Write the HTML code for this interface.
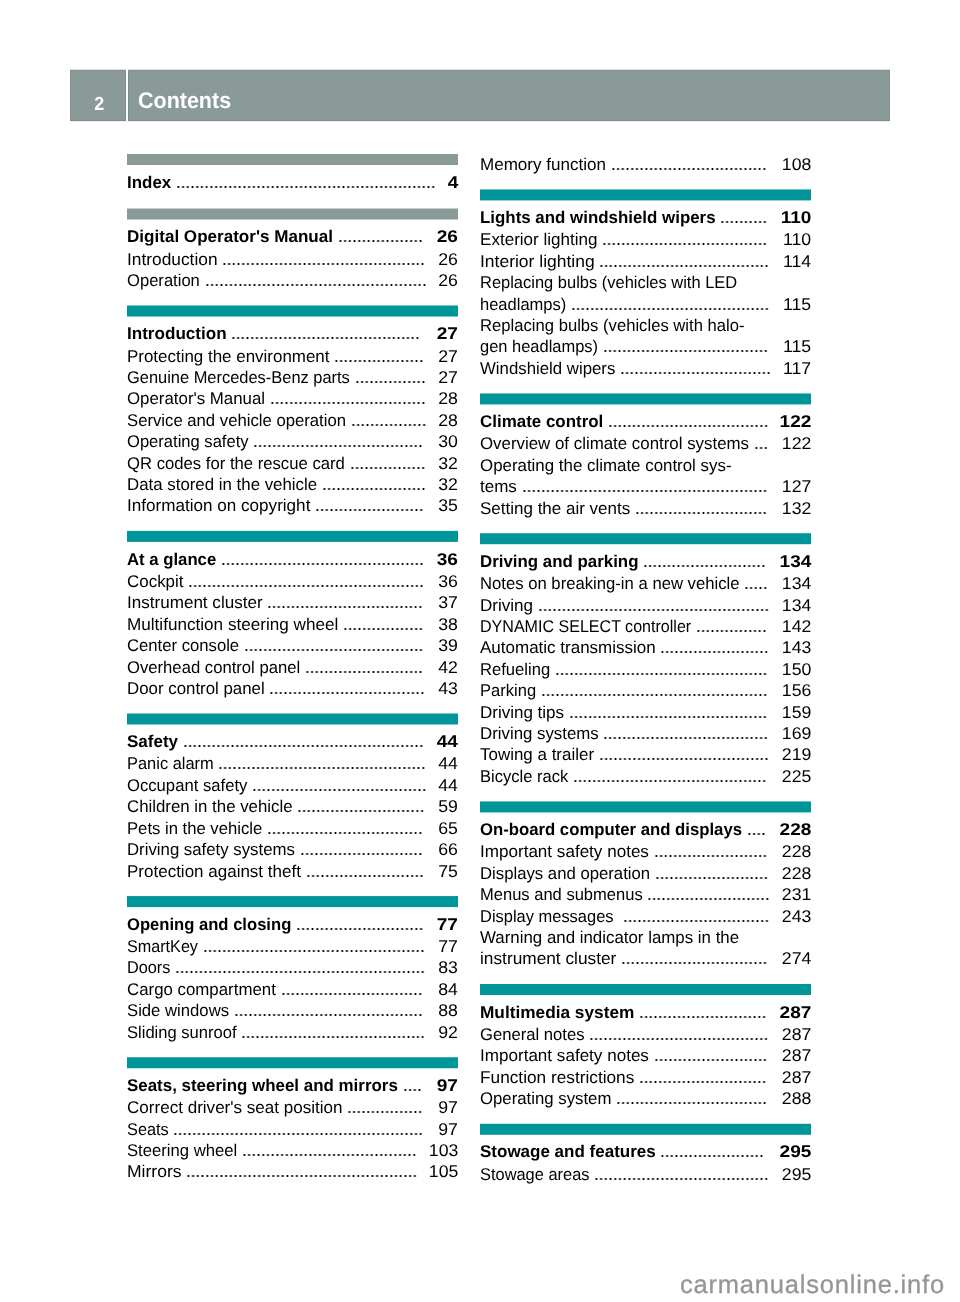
<!DOCTYPE html>
<html><head><meta charset="utf-8"><style>
html,body{margin:0;padding:0;background:#fff}
body{width:960px;height:1302px;position:relative;overflow:hidden;font-family:"Liberation Sans",sans-serif;color:#000;text-rendering:geometricPrecision}
.hd{position:absolute;top:70px;height:51px;background:#8a9a98;box-shadow:inset 0 0 0 1px rgba(0,0,0,0.07),0 -1px 0 rgba(138,154,152,0.25),0 1px 0 rgba(138,154,152,0.2)}
.bar{position:absolute;height:11px}
.row{position:absolute;height:20px;line-height:20px;font-size:17.0px;white-space:nowrap}
.row.b{font-weight:bold}
.t{position:absolute;left:0;top:0;transform-origin:0 0}
.d{position:absolute;top:12px;height:4px;background:radial-gradient(circle at 50% 50%,#000 0,#000 0.75px,rgba(0,0,0,0) 1.3px) 0 0/4.7226px 4px repeat-x}
.n{position:absolute;right:0;top:0;transform:scaleX(1.04);transform-origin:100% 0}
.row.b .n{transform:scaleX(1.12)}
.pg{position:absolute;color:#fff;font-weight:bold;white-space:nowrap}
.wm{position:absolute;color:#959595;font-size:25.5px;line-height:32px;white-space:nowrap;letter-spacing:0.8px;-webkit-text-stroke:0.3px #959595}

</style></head><body>
<div id="L" style="position:absolute;left:0;top:0;width:960px;height:1302px;will-change:transform">
<div class="hd" style="left:70px;width:56px"></div>
<div class="hd" style="left:128px;width:762px"></div>
<div class="pg" style="left:93.9px;top:93px;font-size:19px;line-height:24px;transform:scaleX(0.94);transform-origin:5px 0">2</div>
<div class="pg" style="left:138px;top:87px;font-size:22.7px;line-height:26px;transform:scaleX(0.947);transform-origin:0 0">Contents</div>
<div class="bar" style="left:127px;top:154px;width:331px;height:12px;background:linear-gradient(to bottom,rgba(138,154,152,1.000) 0,rgba(138,154,152,1.000) 1px,#8a9a98 1px,#8a9a98 11px,rgba(138,154,152,0.000) 11px,rgba(138,154,152,0.000) 12px)"></div>
<div class="row b" style="left:127px;top:173px;width:331px"><span class="t" style="transform:scaleX(0.9955)">Index</span><span class="d" style="left:48.93px;width:259.74px"></span><span class="n">4</span></div>
<div class="bar" style="left:127px;top:208px;width:331px;height:12px;background:linear-gradient(to bottom,rgba(138,154,152,0.477) 0,rgba(138,154,152,0.477) 1px,#8a9a98 1px,#8a9a98 11px,rgba(138,154,152,0.523) 11px,rgba(138,154,152,0.523) 12px)"></div>
<div class="row b" style="left:127px;top:227px;width:331px"><span class="t" style="transform:scaleX(1.0034)">Digital Operator&#39;s Manual</span><span class="d" style="left:210.68px;width:85.01px"></span><span class="n">26</span></div>
<div class="row" style="left:127px;top:250px;width:331px"><span class="t" style="transform:scaleX(1.0193)">Introduction</span><span class="d" style="left:95.28px;width:203.07px"></span><span class="n">26</span></div>
<div class="row" style="left:127px;top:271px;width:331px"><span class="t" style="transform:scaleX(0.9757)">Operation</span><span class="d" style="left:77.58px;width:221.96px"></span><span class="n">26</span></div>
<div class="bar" style="left:127px;top:305px;width:331px;height:12px;background:linear-gradient(to bottom,rgba(0,150,153,0.500) 0,rgba(0,150,153,0.500) 1px,#009699 1px,#009699 11px,rgba(0,150,153,0.500) 11px,rgba(0,150,153,0.500) 12px)"></div>
<div class="row b" style="left:127px;top:324px;width:331px"><span class="t" style="transform:scaleX(1.0051)">Introduction</span><span class="d" style="left:104.38px;width:188.90px"></span><span class="n">27</span></div>
<div class="row" style="left:127px;top:347px;width:331px"><span class="t" style="transform:scaleX(0.9966)">Protecting the environment</span><span class="d" style="left:207.19px;width:89.73px"></span><span class="n">27</span></div>
<div class="row" style="left:127px;top:368px;width:331px"><span class="t" style="transform:scaleX(0.9665)">Genuine Mercedes-Benz parts</span><span class="d" style="left:227.57px;width:70.84px"></span><span class="n">27</span></div>
<div class="row" style="left:127px;top:389px;width:331px"><span class="t" style="transform:scaleX(0.9913)">Operator&#39;s Manual</span><span class="d" style="left:142.82px;width:155.85px"></span><span class="n">28</span></div>
<div class="row" style="left:127px;top:411px;width:331px"><span class="t" style="transform:scaleX(0.9820)">Service and vehicle operation</span><span class="d" style="left:223.74px;width:75.56px"></span><span class="n">28</span></div>
<div class="row" style="left:127px;top:432px;width:331px"><span class="t" style="transform:scaleX(0.9744)">Operating safety</span><span class="d" style="left:126.28px;width:170.01px"></span><span class="n">30</span></div>
<div class="row" style="left:127px;top:454px;width:331px"><span class="t" style="transform:scaleX(0.9810)">QR codes for the rescue card</span><span class="d" style="left:222.55px;width:75.56px"></span><span class="n">32</span></div>
<div class="row" style="left:127px;top:475px;width:331px"><span class="t" style="transform:scaleX(0.9911)">Data stored in the vehicle</span><span class="d" style="left:194.86px;width:103.90px"></span><span class="n">32</span></div>
<div class="row" style="left:127px;top:496px;width:331px"><span class="t" style="transform:scaleX(1.0055)">Information on copyright</span><span class="d" style="left:188.12px;width:108.62px"></span><span class="n">35</span></div>
<div class="bar" style="left:127px;top:530px;width:331px;height:12px;background:linear-gradient(to bottom,rgba(0,150,153,0.105) 0,rgba(0,150,153,0.105) 1px,#009699 1px,#009699 11px,rgba(0,150,153,0.895) 11px,rgba(0,150,153,0.895) 12px)"></div>
<div class="row b" style="left:127px;top:550px;width:331px"><span class="t" style="transform:scaleX(0.9833)">At a glance</span><span class="d" style="left:93.91px;width:203.07px"></span><span class="n">36</span></div>
<div class="row" style="left:127px;top:572px;width:331px"><span class="t" style="transform:scaleX(0.9965)">Cockpit</span><span class="d" style="left:61.21px;width:236.13px"></span><span class="n">36</span></div>
<div class="row" style="left:127px;top:593px;width:331px"><span class="t" style="transform:scaleX(1.0037)">Instrument cluster</span><span class="d" style="left:140.33px;width:155.85px"></span><span class="n">37</span></div>
<div class="row" style="left:127px;top:615px;width:331px"><span class="t" style="transform:scaleX(1.0072)">Multifunction steering wheel</span><span class="d" style="left:216.01px;width:80.28px"></span><span class="n">38</span></div>
<div class="row" style="left:127px;top:636px;width:331px"><span class="t" style="transform:scaleX(0.9807)">Center console</span><span class="d" style="left:116.86px;width:179.46px"></span><span class="n">39</span></div>
<div class="row" style="left:127px;top:658px;width:331px"><span class="t" style="transform:scaleX(0.9801)">Overhead control panel</span><span class="d" style="left:177.94px;width:118.06px"></span><span class="n">42</span></div>
<div class="row" style="left:127px;top:679px;width:331px"><span class="t" style="transform:scaleX(0.9913)">Door control panel</span><span class="d" style="left:142.44px;width:155.85px"></span><span class="n">43</span></div>
<div class="bar" style="left:127px;top:713px;width:331px;height:12px;background:linear-gradient(to bottom,rgba(0,150,153,0.516) 0,rgba(0,150,153,0.516) 1px,#009699 1px,#009699 11px,rgba(0,150,153,0.484) 11px,rgba(0,150,153,0.484) 12px)"></div>
<div class="row b" style="left:127px;top:732px;width:331px"><span class="t">Safety</span><span class="d" style="left:55.75px;width:240.85px"></span><span class="n">44</span></div>
<div class="row" style="left:127px;top:754px;width:331px"><span class="t" style="transform:scaleX(0.9663)">Panic alarm</span><span class="d" style="left:91.46px;width:207.79px"></span><span class="n">44</span></div>
<div class="row" style="left:127px;top:776px;width:331px"><span class="t" style="transform:scaleX(0.9797)">Occupant safety</span><span class="d" style="left:125.07px;width:174.74px"></span><span class="n">44</span></div>
<div class="row" style="left:127px;top:797px;width:331px"><span class="t" style="transform:scaleX(0.9898)">Children in the vehicle</span><span class="d" style="left:170.28px;width:127.51px"></span><span class="n">59</span></div>
<div class="row" style="left:127px;top:819px;width:331px"><span class="t" style="transform:scaleX(0.9803)">Pets in the vehicle</span><span class="d" style="left:139.97px;width:155.85px"></span><span class="n">65</span></div>
<div class="row" style="left:127px;top:840px;width:331px"><span class="t" style="transform:scaleX(0.9870)">Driving safety systems</span><span class="d" style="left:172.56px;width:122.79px"></span><span class="n">66</span></div>
<div class="row" style="left:127px;top:862px;width:331px"><span class="t">Protection against theft</span><span class="d" style="left:178.91px;width:118.06px"></span><span class="n">75</span></div>
<div class="bar" style="left:127px;top:896px;width:331px;height:12px;background:linear-gradient(to bottom,rgba(0,150,153,0.927) 0,rgba(0,150,153,0.927) 1px,#009699 1px,#009699 11px,rgba(0,150,153,0.073) 11px,rgba(0,150,153,0.073) 12px)"></div>
<div class="row b" style="left:127px;top:915px;width:331px"><span class="t" style="transform:scaleX(0.9772)">Opening and closing</span><span class="d" style="left:169.02px;width:127.51px"></span><span class="n">77</span></div>
<div class="row" style="left:127px;top:937px;width:331px"><span class="t" style="transform:scaleX(0.9507)">SmartKey</span><span class="d" style="left:75.68px;width:221.96px"></span><span class="n">77</span></div>
<div class="row" style="left:127px;top:958px;width:331px"><span class="t" style="transform:scaleX(0.9556)">Doors</span><span class="d" style="left:48.07px;width:250.30px"></span><span class="n">83</span></div>
<div class="row" style="left:127px;top:980px;width:331px"><span class="t" style="transform:scaleX(0.9907)">Cargo compartment</span><span class="d" style="left:153.55px;width:141.68px"></span><span class="n">84</span></div>
<div class="row" style="left:127px;top:1001px;width:331px"><span class="t" style="transform:scaleX(0.9816)">Side windows</span><span class="d" style="left:106.76px;width:188.90px"></span><span class="n">88</span></div>
<div class="row" style="left:127px;top:1023px;width:331px"><span class="t" style="transform:scaleX(0.9743)">Sliding sunroof</span><span class="d" style="left:114.30px;width:184.18px"></span><span class="n">92</span></div>
<div class="bar" style="left:127px;top:1057px;width:331px;height:12px;background:linear-gradient(to bottom,rgba(0,150,153,0.741) 0,rgba(0,150,153,0.741) 1px,#009699 1px,#009699 11px,rgba(0,150,153,0.259) 11px,rgba(0,150,153,0.259) 12px)"></div>
<div class="row b" style="left:127px;top:1076px;width:331px"><span class="t" style="transform:scaleX(0.9952)">Seats, steering wheel and mirrors</span><span class="d" style="left:275.53px;width:18.89px"></span><span class="n">97</span></div>
<div class="row" style="left:127px;top:1098px;width:331px"><span class="t" style="transform:scaleX(1.0033)">Correct driver&#39;s seat position</span><span class="d" style="left:220.32px;width:75.56px"></span><span class="n">97</span></div>
<div class="row" style="left:127px;top:1120px;width:331px"><span class="t" style="transform:scaleX(0.9605)">Seats</span><span class="d" style="left:46.49px;width:250.30px"></span><span class="n">97</span></div>
<div class="row" style="left:127px;top:1141px;width:331px"><span class="t" style="transform:scaleX(0.9795)">Steering wheel</span><span class="d" style="left:114.88px;width:174.74px"></span><span class="n">103</span></div>
<div class="row" style="left:127px;top:1162px;width:331px"><span class="t" style="transform:scaleX(1.0327)">Mirrors</span><span class="d" style="left:59.34px;width:231.41px"></span><span class="n">105</span></div>
<div class="row" style="left:480px;top:155px;width:331px"><span class="t" style="transform:scaleX(1.0024)">Memory function</span><span class="d" style="left:130.70px;width:155.85px"></span><span class="n">108</span></div>
<div class="bar" style="left:480px;top:189px;width:331px;height:12px;background:linear-gradient(to bottom,rgba(0,150,153,0.569) 0,rgba(0,150,153,0.569) 1px,#009699 1px,#009699 11px,rgba(0,150,153,0.431) 11px,rgba(0,150,153,0.431) 12px)"></div>
<div class="row b" style="left:480px;top:208px;width:331px"><span class="t" style="transform:scaleX(0.9936)">Lights and windshield wipers</span><span class="d" style="left:240.31px;width:47.23px"></span><span class="n">110</span></div>
<div class="row" style="left:480px;top:230px;width:331px"><span class="t" style="transform:scaleX(1.0034)">Exterior lighting</span><span class="d" style="left:122.30px;width:165.29px"></span><span class="n">110</span></div>
<div class="row" style="left:480px;top:252px;width:331px"><span class="t" style="transform:scaleX(1.0282)">Interior lighting</span><span class="d" style="left:119.38px;width:170.01px"></span><span class="n">114</span></div>
<div class="row" style="left:480px;top:273px;width:331px"><span class="t" style="transform:scaleX(0.9687)">Replacing bulbs (vehicles with LED</span></div>
<div class="row" style="left:480px;top:295px;width:331px"><span class="t" style="transform:scaleX(0.9716)">headlamps)</span><span class="d" style="left:91.03px;width:198.35px"></span><span class="n">115</span></div>
<div class="row" style="left:480px;top:316px;width:331px"><span class="t" style="transform:scaleX(0.9789)">Replacing bulbs (vehicles with halo-</span></div>
<div class="row" style="left:480px;top:337px;width:331px"><span class="t" style="transform:scaleX(0.9686)">gen headlamps)</span><span class="d" style="left:122.82px;width:165.29px"></span><span class="n">115</span></div>
<div class="row" style="left:480px;top:359px;width:331px"><span class="t" style="transform:scaleX(0.9875)">Windshield wipers</span><span class="d" style="left:140.01px;width:151.12px"></span><span class="n">117</span></div>
<div class="bar" style="left:480px;top:393px;width:331px;height:12px;background:linear-gradient(to bottom,rgba(0,150,153,0.577) 0,rgba(0,150,153,0.577) 1px,#009699 1px,#009699 11px,rgba(0,150,153,0.423) 11px,rgba(0,150,153,0.423) 12px)"></div>
<div class="row b" style="left:480px;top:412px;width:331px"><span class="t" style="transform:scaleX(0.9967)">Climate control</span><span class="d" style="left:128.07px;width:160.57px"></span><span class="n">122</span></div>
<div class="row" style="left:480px;top:434px;width:331px"><span class="t" style="transform:scaleX(0.9923)">Overview of climate control systems</span><span class="d" style="left:273.76px;width:14.17px"></span><span class="n">122</span></div>
<div class="row" style="left:480px;top:456px;width:331px"><span class="t" style="transform:scaleX(0.9933)">Operating the climate control sys-</span></div>
<div class="row" style="left:480px;top:477px;width:331px"><span class="t">tems</span><span class="d" style="left:41.57px;width:245.58px"></span><span class="n">127</span></div>
<div class="row" style="left:480px;top:499px;width:331px"><span class="t">Setting the air vents</span><span class="d" style="left:154.69px;width:132.23px"></span><span class="n">132</span></div>
<div class="bar" style="left:480px;top:533px;width:331px;height:12px;background:linear-gradient(to bottom,rgba(0,150,153,0.794) 0,rgba(0,150,153,0.794) 1px,#009699 1px,#009699 11px,rgba(0,150,153,0.206) 11px,rgba(0,150,153,0.206) 12px)"></div>
<div class="row b" style="left:480px;top:552px;width:331px"><span class="t" style="transform:scaleX(0.9925)">Driving and parking</span><span class="d" style="left:163.16px;width:122.79px"></span><span class="n">134</span></div>
<div class="row" style="left:480px;top:574px;width:331px"><span class="t" style="transform:scaleX(0.9807)">Notes on breaking-in a new vehicle</span><span class="d" style="left:264.22px;width:23.61px"></span><span class="n">134</span></div>
<div class="row" style="left:480px;top:596px;width:331px"><span class="t" style="transform:scaleX(1.0038)">Driving</span><span class="d" style="left:57.83px;width:231.41px"></span><span class="n">134</span></div>
<div class="row" style="left:480px;top:617px;width:331px"><span class="t" style="transform:scaleX(0.9444)">DYNAMIC SELECT controller</span><span class="d" style="left:215.88px;width:70.84px"></span><span class="n">142</span></div>
<div class="row" style="left:480px;top:638px;width:331px"><span class="t">Automatic transmission</span><span class="d" style="left:180.36px;width:108.62px"></span><span class="n">143</span></div>
<div class="row" style="left:480px;top:660px;width:331px"><span class="t" style="transform:scaleX(0.9761)">Refueling</span><span class="d" style="left:74.83px;width:212.52px"></span><span class="n">150</span></div>
<div class="row" style="left:480px;top:681px;width:331px"><span class="t" style="transform:scaleX(0.9737)">Parking</span><span class="d" style="left:60.85px;width:226.68px"></span><span class="n">156</span></div>
<div class="row" style="left:480px;top:703px;width:331px"><span class="t">Driving tips</span><span class="d" style="left:88.92px;width:198.35px"></span><span class="n">159</span></div>
<div class="row" style="left:480px;top:724px;width:331px"><span class="t" style="transform:scaleX(0.9899)">Driving systems</span><span class="d" style="left:123.48px;width:165.29px"></span><span class="n">169</span></div>
<div class="row" style="left:480px;top:745px;width:331px"><span class="t" style="transform:scaleX(0.9974)">Towing a trailer</span><span class="d" style="left:118.75px;width:170.01px"></span><span class="n">219</span></div>
<div class="row" style="left:480px;top:767px;width:331px"><span class="t" style="transform:scaleX(0.9725)">Bicycle rack</span><span class="d" style="left:92.92px;width:193.63px"></span><span class="n">225</span></div>
<div class="bar" style="left:480px;top:801px;width:331px;height:12px;background:linear-gradient(to bottom,rgba(0,150,153,0.593) 0,rgba(0,150,153,0.593) 1px,#009699 1px,#009699 11px,rgba(0,150,153,0.407) 11px,rgba(0,150,153,0.407) 12px)"></div>
<div class="row b" style="left:480px;top:820px;width:331px"><span class="t" style="transform:scaleX(0.9835)">On-board computer and displays</span><span class="d" style="left:266.69px;width:18.89px"></span><span class="n">228</span></div>
<div class="row" style="left:480px;top:842px;width:331px"><span class="t" style="transform:scaleX(1.0042)">Important safety notes</span><span class="d" style="left:173.63px;width:113.34px"></span><span class="n">228</span></div>
<div class="row" style="left:480px;top:864px;width:331px"><span class="t" style="transform:scaleX(0.9837)">Displays and operation</span><span class="d" style="left:174.86px;width:113.34px"></span><span class="n">228</span></div>
<div class="row" style="left:480px;top:885px;width:331px"><span class="t" style="transform:scaleX(0.9725)">Menus and submenus</span><span class="d" style="left:167.40px;width:122.79px"></span><span class="n">231</span></div>
<div class="row" style="left:480px;top:907px;width:331px"><span class="t" style="transform:scaleX(0.9679)">Display messages</span><span class="d" style="left:142.97px;width:146.40px"></span><span class="n">243</span></div>
<div class="row" style="left:480px;top:928px;width:331px"><span class="t" style="transform:scaleX(0.9923)">Warning and indicator lamps in the</span></div>
<div class="row" style="left:480px;top:949px;width:331px"><span class="t" style="transform:scaleX(1.0164)">instrument cluster</span><span class="d" style="left:141.10px;width:146.40px"></span><span class="n">274</span></div>
<div class="bar" style="left:480px;top:983px;width:331px;height:12px;background:linear-gradient(to bottom,rgba(0,150,153,0.004) 0,rgba(0,150,153,0.004) 1px,#009699 1px,#009699 11px,rgba(0,150,153,0.996) 11px,rgba(0,150,153,0.996) 12px)"></div>
<div class="row b" style="left:480px;top:1003px;width:331px"><span class="t" style="transform:scaleX(1.0146)">Multimedia system</span><span class="d" style="left:159.05px;width:127.51px"></span><span class="n">287</span></div>
<div class="row" style="left:480px;top:1025px;width:331px"><span class="t" style="transform:scaleX(0.9783)">General notes</span><span class="d" style="left:109.20px;width:179.46px"></span><span class="n">287</span></div>
<div class="row" style="left:480px;top:1046px;width:331px"><span class="t" style="transform:scaleX(1.0042)">Important safety notes</span><span class="d" style="left:173.63px;width:113.34px"></span><span class="n">287</span></div>
<div class="row" style="left:480px;top:1068px;width:331px"><span class="t" style="transform:scaleX(1.0146)">Function restrictions</span><span class="d" style="left:159.06px;width:127.51px"></span><span class="n">287</span></div>
<div class="row" style="left:480px;top:1089px;width:331px"><span class="t" style="transform:scaleX(0.9864)">Operating system</span><span class="d" style="left:136.14px;width:151.12px"></span><span class="n">288</span></div>
<div class="bar" style="left:480px;top:1123px;width:331px;height:12px;background:linear-gradient(to bottom,rgba(0,150,153,0.221) 0,rgba(0,150,153,0.221) 1px,#009699 1px,#009699 11px,rgba(0,150,153,0.779) 11px,rgba(0,150,153,0.779) 12px)"></div>
<div class="row b" style="left:480px;top:1142px;width:331px"><span class="t">Stowage and features</span><span class="d" style="left:180.34px;width:103.90px"></span><span class="n">295</span></div>
<div class="row" style="left:480px;top:1165px;width:331px"><span class="t" style="transform:scaleX(0.9655)">Stowage areas</span><span class="d" style="left:114.21px;width:174.74px"></span><span class="n">295</span></div>
<div class="wm" style="left:680px;top:1269px">carmanualsonline.info</div>
</div>
</body></html>
